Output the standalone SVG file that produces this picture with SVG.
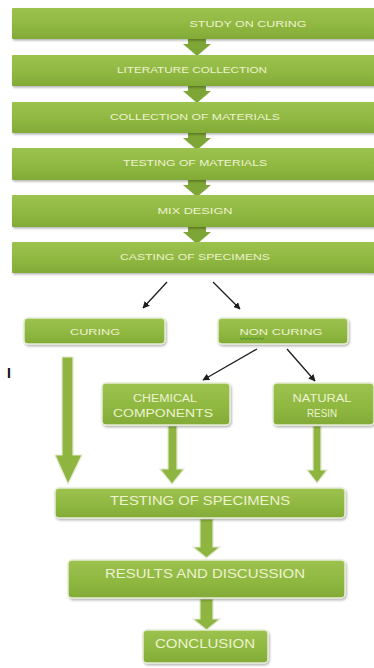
<svg xmlns="http://www.w3.org/2000/svg" width="374" height="668" viewBox="0 0 374 668">
<defs>
<linearGradient id="g" x1="0" y1="0" x2="0" y2="1">
<stop offset="0" stop-color="#9CC24F"/>
<stop offset="0.6" stop-color="#8EB740"/>
<stop offset="1" stop-color="#82AA37"/>
</linearGradient>
<filter id="sh" x="-5%" y="-10%" width="110%" height="130%">
<feDropShadow dx="1" dy="1.5" stdDeviation="1" flood-color="#000" flood-opacity="0.3"/>
</filter>
<marker id="ah" viewBox="0 0 10 10" refX="9" refY="5" markerWidth="7" markerHeight="7" orient="auto" markerUnits="userSpaceOnUse">
<path d="M0,0 L10,5 L0,10 z" fill="#1e1e1e"/>
</marker>
</defs>
<style>
.bx{fill:url(#g);filter:url(#sh);}
.rb{fill:url(#g);stroke:#E6EDD6;stroke-width:1.5;filter:url(#sh);}
.t{font-family:"Liberation Sans",Arial,sans-serif;fill:#EEF3CF;text-anchor:middle;}
.s{font-size:9px;}
.m{font-size:10px;}
.l{font-size:12px;}
.ga{fill:#7EA636;}
.gb{fill:#8DB53F;stroke:#E3EAD2;stroke-width:1.2;}
.ln{stroke:#1e1e1e;stroke-width:1.3;fill:none;marker-end:url(#ah);}
</style>
<rect width="374" height="668" fill="#FFFFFF"/>
<g id="connectors">
<polygon class="ga" points="188,39 206,39 206,44 211,44 197,56 183,44 188,44"/>
<polygon class="ga" points="188,86 206,86 206,91 211,91 197,103 183,91 188,91"/>
<polygon class="ga" points="188,133 206,133 206,138 211,138 197,150 183,138 188,138"/>
<polygon class="ga" points="188,180 206,180 206,185 211,185 197,197 183,185 188,185"/>
<polygon class="ga" points="188,227 206,227 206,232 211,232 197,244 183,232 188,232"/>
<line class="ln" x1="167" y1="282" x2="143" y2="308"/>
<line class="ln" x1="213" y1="282" x2="240" y2="309"/>
<line class="ln" x1="257" y1="349" x2="203" y2="380"/>
<line class="ln" x1="287" y1="349" x2="315" y2="381"/>
<polygon class="gb" points="62,357 73,357 73,455 82,455 68,484 55,455 62,455"/>
<polygon class="gb" points="168,426 177,426 177,469 184,469 172,484 160,469 168,469"/>
<polygon class="gb" points="313,426 321,426 321,470 327,470 317,483 307,470 313,470"/>
<polygon class="gb" points="200,519 213,519 213,547 220,547 206.5,558 193,547 200,547"/>
<polygon class="gb" points="200,599 213,599 213,619 220,619 206.5,630 193,619 200,619"/>
</g>
<g id="study"><rect class="bx" x="12" y="8" width="366" height="31" rx="1"/><text class="t s" x="248" y="27" textLength="117" lengthAdjust="spacingAndGlyphs">STUDY ON CURING</text></g>
<g id="literature"><rect class="bx" x="12" y="55" width="366" height="31" rx="1"/><text class="t s" x="192" y="73" textLength="150" lengthAdjust="spacingAndGlyphs">LITERATURE  COLLECTION</text></g>
<g id="collection"><rect class="bx" x="12" y="102" width="366" height="31" rx="1"/><text class="t s" x="195" y="120" textLength="170" lengthAdjust="spacingAndGlyphs">COLLECTION  OF MATERIALS</text></g>
<g id="testingmat"><rect class="bx" x="12" y="148" width="366" height="32" rx="1"/><text class="t s" x="195" y="166" textLength="144" lengthAdjust="spacingAndGlyphs">TESTING  OF  MATERIALS</text></g>
<g id="mix"><rect class="bx" x="12" y="195" width="366" height="32" rx="1"/><text class="t s" x="195" y="214" textLength="75" lengthAdjust="spacingAndGlyphs">MIX DESIGN</text></g>
<g id="casting"><rect class="bx" x="12" y="242" width="366" height="31" rx="1"/><text class="t s" x="195" y="260" textLength="150" lengthAdjust="spacingAndGlyphs">CASTING  OF SPECIMENS</text></g>
<g id="curing"><rect class="rb" x="24" y="318" width="141" height="26" rx="4"/><text class="t s" x="95" y="335" textLength="50" lengthAdjust="spacingAndGlyphs">CURING</text></g>
<g id="noncuring"><rect class="rb" x="218" y="318" width="130" height="26" rx="4"/><text class="t s" x="281" y="335" textLength="83" lengthAdjust="spacingAndGlyphs">NON CURING</text><path d="M240,338 l2,1.5 l2,-1.5 l2,1.5 l2,-1.5 l2,1.5 l2,-1.5 l2,1.5 l2,-1.5 l2,1.5 l2,-1.5 l2,1.5 l2,-1.5" fill="none" stroke="#3C8A2E" stroke-width="0.8"/></g>
<g id="chemical"><rect class="rb" x="102" y="383" width="128" height="42" rx="4"/><text class="t m" x="165" y="402" textLength="64" lengthAdjust="spacingAndGlyphs">CHEMICAL</text><text class="t m" x="163" y="417" textLength="100" lengthAdjust="spacingAndGlyphs">COMPONENTS</text></g>
<g id="natural"><rect class="rb" x="273" y="383" width="101" height="42" rx="4"/><text class="t m" x="322" y="402" textLength="59" lengthAdjust="spacingAndGlyphs">NATURAL</text><text class="t m" x="322" y="417" textLength="30" lengthAdjust="spacingAndGlyphs">RESIN</text></g>
<g id="testingspec"><rect class="rb" x="55" y="488" width="290" height="30" rx="4"/><text class="t l" x="200" y="505" textLength="180" lengthAdjust="spacingAndGlyphs">TESTING OF SPECIMENS</text></g>
<g id="results"><rect class="rb" x="68" y="560" width="277" height="38" rx="4"/><text class="t l" x="205" y="578" textLength="200" lengthAdjust="spacingAndGlyphs">RESULTS AND DISCUSSION</text></g>
<g id="conclusion"><rect class="rb" x="143" y="630" width="125" height="33" rx="4"/><text class="t l" x="205" y="648" textLength="100" lengthAdjust="spacingAndGlyphs">CONCLUSION</text></g>
<text x="9" y="378" font-family="Liberation Sans,Arial,sans-serif" font-size="14" font-weight="bold" fill="#111" text-anchor="middle">I</text>
</svg>
